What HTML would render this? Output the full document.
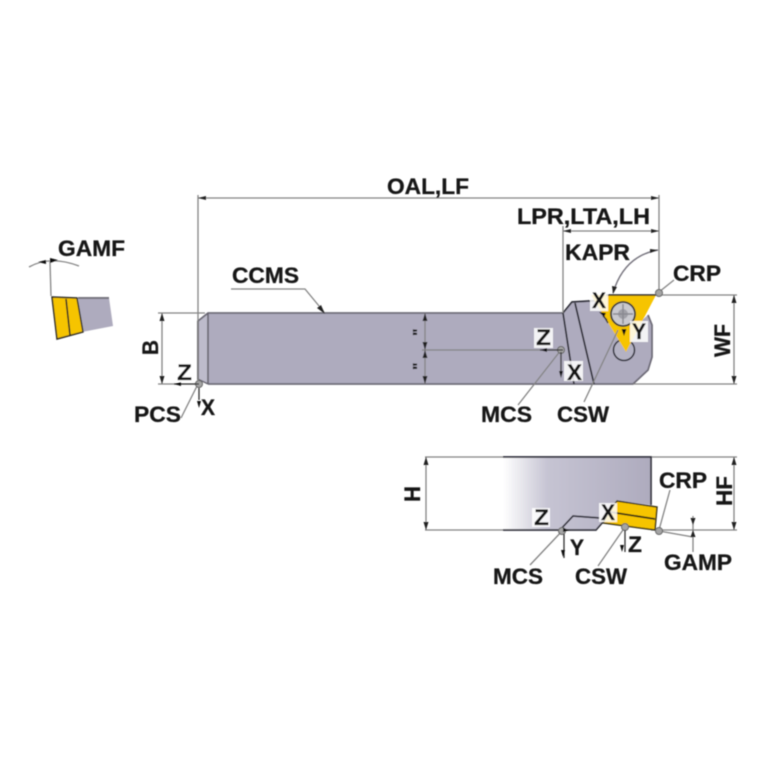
<!DOCTYPE html>
<html>
<head>
<meta charset="utf-8">
<style>
html,body{margin:0;padding:0;background:#fff;width:767px;height:767px;overflow:hidden}
svg{display:block}
text{font-family:"Liberation Sans",sans-serif;font-weight:bold;fill:#141414;font-size:22px;stroke:#141414;stroke-width:.25}
.d{stroke:#848484;stroke-width:1.3;fill:none}
.k{stroke:#2b2b35;stroke-width:1.7;fill:none}
.bg{fill:#fff;opacity:.85}
</style>
</head>
<body>
<svg width="767" height="767" viewBox="0 0 767 767" xmlns="http://www.w3.org/2000/svg">
<defs>
<linearGradient id="g" x1="0" x2="1" y1="0" y2="0">
<stop offset="0" stop-color="#fff"/>
<stop offset=".3" stop-color="#c6c4d3"/>
<stop offset="1" stop-color="#aeabbe"/>
</linearGradient>
<filter id="b" x="-5%" y="-5%" width="110%" height="110%"><feGaussianBlur stdDeviation=".55"/></filter>
</defs>
<g filter="url(#b)">

<!-- GAMF left view -->
<polygon points="78,298 109,298 113,326 82,332" fill="#aeabbe"/>
<line x1="78" y1="298" x2="109" y2="298" stroke="#77757f" stroke-width="2"/>
<polygon points="52,297 77,298 83,332 57,339" fill="#f6c400" stroke="#2b2b20" stroke-width="1.5"/>
<line x1="66" y1="299" x2="70" y2="335" stroke="#2b2b20" stroke-width="1.6"/>
<line x1="50" y1="262" x2="51" y2="296" class="d"/>
<path d="M29,267 Q50,255 79,266" class="d"/>
<path d="M38,262 L46,260 L46,264Z M58,260 L50,258 L50,263Z" fill="#111"/>

<!-- main body -->
<polygon points="208,313 563,313 572,302 607,300 630,340 640,322 648,315 652,325 652,357 648,370 633,384 208,384" fill="#aeabbe"/>
<polygon points="198,321 208,313 208,384 198,378" fill="#bdbbcb"/>
<path d="M198,380 L198,321 L208,313 L563,313 M208,384 L633,384 L648,370 L652,357 L652,325 L648,315" fill="none" stroke="#6e6c78" stroke-width="1.8"/>
<line x1="198" y1="321" x2="198" y2="380" stroke="#33333c" stroke-width="1.6"/>
<line x1="208" y1="313" x2="208" y2="384" stroke="#66646f" stroke-width="1.6"/>
<line x1="198" y1="379" x2="208" y2="384" stroke="#66646f" stroke-width="1.4"/>
<path d="M563,313 L572,302 L607,300" class="k"/>
<path d="M563,313 L574,384" class="k"/>
<path d="M575,303 L594,384" class="k"/>

<!-- insert top view -->
<circle cx="624" cy="350" r="10.500" fill="#b4b2c3" stroke="#33333c" stroke-width="1.6"/>
<polygon points="591,295 656,295 626,352" fill="#f6c400"/>
<line x1="606" y1="295" x2="656" y2="295" stroke="#222" stroke-width="1.6"/>
<line x1="602" y1="313" x2="608" y2="323" stroke="#333" stroke-width="1.4"/>
<circle cx="623" cy="314" r="12" fill="#c9c9cf" stroke="#3a3a36" stroke-width="1.8"/>
<circle cx="623" cy="314" r="5" fill="#a0a0a8"/>
<path d="M623,304 V324 M613,314 H633" stroke="#8a8a92" stroke-width="1.5"/>

<!-- dimension lines -->
<path class="d" d="M198,195 V380 M659,195 V295 M198,198 H659 M563,226 V313 M563,231 H659 M656,295 H737 M633,384 H737 M734,295 V384"/>
<path class="d" d="M158,313 H205 M158,384 H198 M162,313 V384"/>
<path class="d" d="M425,457 H651 M425,530 H503 M651,457 H737 M651,530 H737 M426,457 V530 M734,457 V530"/>
<path class="d" d="M425,313 V384 M422,350 H563"/>
<path d="M198,198 l8,-2 v4z M659,198 l-8,-2 v4z M563,231 l8,-2 v4z M659,231 l-8,-2 v4z" fill="#222"/>
<path d="M734,295 l-2.500,8 h5z M734,384 l-2.500,-8 h5z M162,313 l-2.500,8 h5z M162,384 l-2.500,-8 h5z" fill="#222"/>
<path d="M426,457 l-2.500,8 h5z M426,530 l-2.500,-8 h5z M734,457 l-2.500,8 h5z M734,530 l-2.500,-8 h5z" fill="#222"/>
<path d="M425,313 l-2.500,8 h5z M425,384 l-2.500,-8 h5z M425,350 l-2.500,-8 h5z M425,350 l-2.500,8 h5z" fill="#222"/>

<!-- CCMS leader -->
<path class="d" d="M231,289 H305 L324,312"/>
<path d="M325,314 L317,308 L321,305Z" fill="#222"/>

<!-- KAPR arc -->
<path d="M658,250 Q624,256 613,293" stroke="#77757f" stroke-width="1.4" fill="none"/>
<path d="M658,250 l-8,-1 v4z M613,294 l-1,-8 l5,1z" fill="#222"/>

<!-- leaders -->
<path class="d" d="M181,418 L198,384 M518,405 L561,350 M584,402 L618,330 M659,292 L674,280"/>
<path class="d" d="M530,565 L564,529 M598,566 L625,527 M659,530 L670,490"/>
<path class="d" d="M659,531 L693,537 M693,516 V552"/>
<path d="M693,525 l-2.500,-7 h5z M693,530 l-2.500,7 h5z" fill="#222"/>

<!-- side view -->
<polygon points="503,457 651,457 651,505 618,501 603,523 595,530 503,530" fill="url(#g)"/>
<path d="M503,457 H651 V505" stroke="#33333c" stroke-width="1.7" fill="none"/>
<path d="M503,530 H560 L573,516 L600,518" stroke="#33333c" stroke-width="1.7" fill="none"/>
<path d="M560,530 H596 L603,522" stroke="#33333c" stroke-width="1.7" fill="none"/>
<polygon points="617,501 657,507 655,530 603,523 610,510" fill="#f6c400" stroke="#2f2a10" stroke-width="1.4"/>
<line x1="610" y1="512" x2="655" y2="519" stroke="#2f2a10" stroke-width="1.8"/>

<!-- origin markers -->
<g fill="#a5a5a5" stroke="#666" stroke-width="1">
<circle cx="199" cy="384" r="3.500"/>
<circle cx="561" cy="350" r="3.500"/>
<circle cx="659" cy="293" r="3.500"/>
<circle cx="562" cy="531" r="3.500"/>
<circle cx="625" cy="527" r="3.500"/>
<circle cx="659" cy="531" r="3.500"/>
</g>

<!-- axis arrows -->
<path class="d" style="stroke:#333" d="M199,384 H174 M199,400 V388 M561,352 V375 M563,350 H540 M564,534 V558 M625,530 V552 M607,320 L603,316"/>
<path d="M174,384 l7,-2 v4z M199,408 l-2,-7 h4z M561,378 l-2,-7 h4z M540,350 l7,-2 v4z M563,557 l-2,-7 h4z M622,552 l-2,-7 h4z M599,312 l7,1 l-2,4z M624,336 l-2.500,-7 h5z M570,530 l-7,-2 v4z" fill="#111"/>

<!-- white label backgrounds -->
<rect class="bg" x="590" y="290" width="18" height="21"/>
<rect class="bg" x="630" y="321" width="18" height="21"/>
<rect class="bg" x="534" y="328" width="19" height="20"/>
<rect class="bg" x="564" y="361" width="19" height="20"/>
<rect class="bg" x="599" y="503" width="18" height="19"/>
<rect class="bg" x="532" y="508" width="18" height="19"/>
<rect class="bg" x="175" y="363" width="18" height="19"/>

<!-- labels -->
<text x="387" y="194" textLength="82" lengthAdjust="spacingAndGlyphs">OAL,LF</text>
<text x="517" y="224" textLength="133" lengthAdjust="spacingAndGlyphs">LPR,LTA,LH</text>
<text x="565" y="260" textLength="65" lengthAdjust="spacingAndGlyphs">KAPR</text>
<text x="673" y="281" textLength="48" lengthAdjust="spacingAndGlyphs">CRP</text>
<text x="58" y="256" textLength="67" lengthAdjust="spacingAndGlyphs">GAMF</text>
<text x="232" y="283" textLength="67" lengthAdjust="spacingAndGlyphs">CCMS</text>
<text x="134" y="422" textLength="47" lengthAdjust="spacingAndGlyphs">PCS</text>
<text x="201" y="415" textLength="14" lengthAdjust="spacingAndGlyphs">X</text>
<text x="177" y="380" textLength="15" lengthAdjust="spacingAndGlyphs">Z</text>
<text x="481" y="422" textLength="51" lengthAdjust="spacingAndGlyphs">MCS</text>
<text x="557" y="422" textLength="52" lengthAdjust="spacingAndGlyphs">CSW</text>
<text x="536" y="345" textLength="15" lengthAdjust="spacingAndGlyphs">Z</text>
<text x="567" y="380" textLength="15" lengthAdjust="spacingAndGlyphs">X</text>
<text x="592" y="308" textLength="14" lengthAdjust="spacingAndGlyphs">X</text>
<text x="632" y="339" textLength="14" lengthAdjust="spacingAndGlyphs">Y</text>
<text x="659" y="488" textLength="48" lengthAdjust="spacingAndGlyphs">CRP</text>
<text x="601" y="520" textLength="14" lengthAdjust="spacingAndGlyphs">X</text>
<text x="534" y="525" textLength="15" lengthAdjust="spacingAndGlyphs">Z</text>
<text x="570" y="555" textLength="14" lengthAdjust="spacingAndGlyphs">Y</text>
<text x="628" y="552" textLength="14" lengthAdjust="spacingAndGlyphs">Z</text>
<text x="493" y="584" textLength="50" lengthAdjust="spacingAndGlyphs">MCS</text>
<text x="575" y="584" textLength="52" lengthAdjust="spacingAndGlyphs">CSW</text>
<text x="664" y="570" textLength="68" lengthAdjust="spacingAndGlyphs">GAMP</text>
<text transform="translate(158,355) rotate(-90)" textLength="15" lengthAdjust="spacingAndGlyphs">B</text>
<text transform="translate(730,357) rotate(-90)" textLength="33" lengthAdjust="spacingAndGlyphs">WF</text>
<text transform="translate(420,502) rotate(-90)" textLength="16" lengthAdjust="spacingAndGlyphs">H</text>
<text transform="translate(732,506) rotate(-90)" textLength="30" lengthAdjust="spacingAndGlyphs">HF</text>
<text transform="translate(424,336) rotate(-90)" style="font-size:16px">"</text>
<text transform="translate(424,370) rotate(-90)" style="font-size:16px">"</text>
</g>
</svg>
</body>
</html>
